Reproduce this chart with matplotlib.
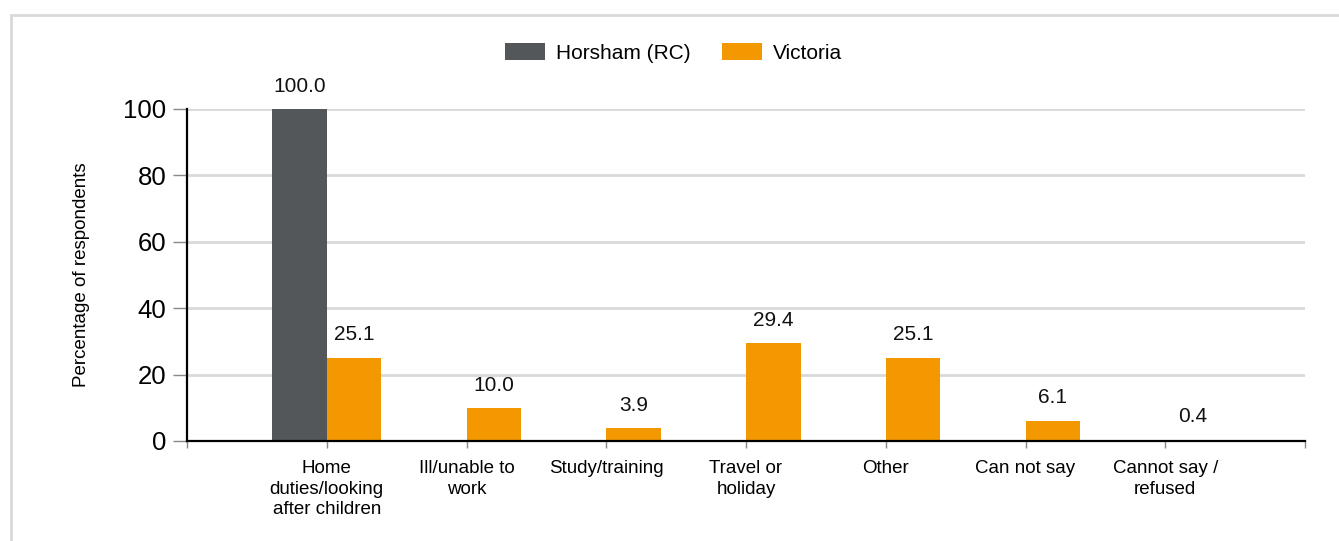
import numpy as np
import matplotlib.pyplot as plt
from matplotlib.patches import Rectangle

# data
categories = ["Home\nduties/looking\nafter children", "Ill/unable to\nwork", "Study/training",
              "Travel or\nholiday", "Other", "Can not say", "Cannot say /\nrefused"]
horsham = [100.0, np.nan, np.nan, np.nan, np.nan, np.nan, np.nan]
victoria = [25.1, 10.0, 3.9, 29.4, 25.1, 6.1, 0.4]
yticks = [0, 20, 40, 60, 80, 100]

dark = "#54575a"
orange = "#f39800"
grid = "#d9d9d9"

plt.rcParams['font.family'] = ['Liberation Sans', 'DejaVu Sans']

fig = plt.figure(figsize=(13.39, 5.41), dpi=100)
ax = fig.add_axes([187 / 1339, 1 - 441 / 541, (1305 - 187) / 1339, (441 - 109) / 541])

# outer light frame
fig.patches.append(Rectangle((11 / 1339, -0.1), 1.2, 1 - 15 / 541 + 0.1, transform=fig.transFigure,
                             fill=False, edgecolor=grid, linewidth=2))

x = np.arange(1, len(categories) + 1)
w = 0.39
b1 = ax.bar(x - w / 2, horsham, width=w, color=dark, label="Horsham (RC)", zorder=3)
b2 = ax.bar(x + w / 2, victoria, width=w, color=orange, label="Victoria", zorder=3)

for xs, vals in [(x - w / 2, horsham), (x + w / 2, victoria)]:
    for xi, v in zip(xs, vals):
        if np.isnan(v):
            continue
        ax.text(xi, v + 4, "%.1f" % v, ha='center', va='bottom', fontsize=15, color='#111111')

ax.set_xlim(0, len(categories) + 1)
ax.set_ylim(0, 100)
ax.set_yticks(yticks)
ax.set_yticklabels([str(t) for t in yticks], fontsize=18.5)
ax.set_xticks(np.arange(0, len(categories) + 2))
ax.set_xticklabels([""] + categories + [""], fontsize=13.5, linespacing=1.25)
ax.tick_params(axis='y', length=10, width=1, color='#888888', pad=5)
ax.tick_params(axis='x', length=5, width=1, color='#888888', pad=9)
ax.yaxis.grid(True, color=grid, linewidth=2, zorder=0)
ax.set_axisbelow(True)

for s in ['top', 'right']:
    ax.spines[s].set_visible(False)
ax.spines['left'].set_linewidth(1.6)
ax.spines['bottom'].set_linewidth(1.6)
ax.spines['bottom'].set_zorder(4)

ax.set_ylabel("Percentage of respondents", fontsize=13.5, labelpad=24)

fig.legend(handles=[b1, b2], loc='center', bbox_to_anchor=(0.503, 1 - 53 / 541), ncol=2,
           frameon=False, fontsize=15, handlelength=1.92, handleheight=0.87,
           handletextpad=0.53, columnspacing=1.54)

fig.savefig("out.png", dpi=100)
